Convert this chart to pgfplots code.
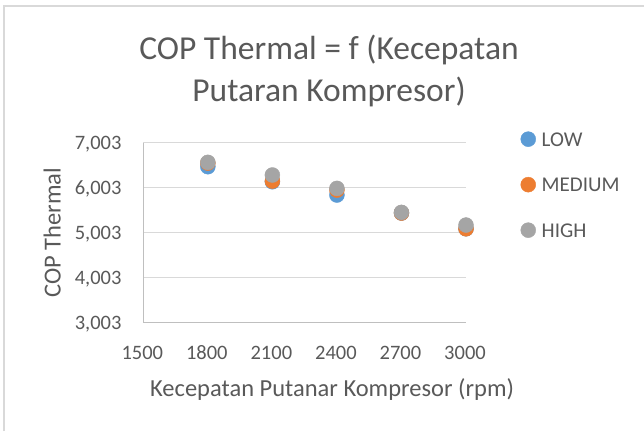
\documentclass[border=0pt]{standalone}
\usepackage{pgfplots}
\pgfplotsset{compat=1.18}
\usepackage{fontspec}
\setmainfont{Carlito}
\definecolor{txt}{HTML}{595959}
\definecolor{gridc}{HTML}{D9D9D9}
\definecolor{axln}{HTML}{BFBFBF}
\definecolor{cLow}{HTML}{5B9BD5}
\definecolor{cMed}{HTML}{ED7D31}
\definecolor{cHigh}{HTML}{A5A5A5}
\begin{document}
\begin{tikzpicture}[x=1pt,y=1pt]
\useasboundingbox (0,0) rectangle (644,431);
\draw[gridc, line width=2pt] (4,0) -- (4,425) -- (644,425);
\begin{axis}[
  at={(143.3pt,108.3pt)}, anchor=south west,
  scale only axis, width=322.7pt, height=180pt,
  xmin=1500, xmax=3000, ymin=3.003, ymax=7.003,
  clip=false,
  xtick={1500,1800,2100,2400,2700,3000},
  ytick={3.003,4.003,5.003,6.003,7.003},
  yticklabels={{3,003},{4,003},{5,003},{6,003},{7,003}},
  /pgf/number format/assume math mode=true,
  /pgf/number format/1000 sep={},
  major tick length=0pt,
  ymajorgrids, grid style={gridc, line width=1.5pt},
  axis lines*=left,
  axis line style={axln, line width=1.5pt, -},
  xticklabel style={font=\fontsize{20.5}{24}\selectfont, text=txt, anchor=base, yshift=-37pt, xshift=-1pt},
  yticklabel style={font=\fontsize{20.5}{24}\selectfont, text=txt, anchor=base east, inner sep=0pt, xshift=-21.6pt, yshift=-6.6pt},
  xlabel={Kecepatan Putanar Kompresor (rpm)},
  xlabel style={font=\fontsize{24.5}{28}\selectfont, text=txt, at={(axis description cs:0.585,-0.411)}, anchor=base},
  ylabel={COP Thermal},
  ylabel style={font=\fontsize{24.5}{28}\selectfont, text=txt, at={(axis description cs:-0.282,0.5)}, anchor=center},
  legend style={draw=none, fill=none, inner sep=0pt, at={(axis description cs:1.169,1.0625)}, anchor=north west,
    font=\fontsize{21}{24}\selectfont, text=txt, row sep=30.5pt,
    nodes={inner sep=0pt, text height=14.5pt, text depth=0.5pt}, column sep=6pt},
  legend cell align=left,
  legend image code/.code={\draw[#1] plot coordinates {(7.5pt,0pt)};},
]
\addplot[only marks, mark=*, mark size=7.5pt, draw=cLow, fill=cLow] coordinates {
  (1800,6.47) (2100,6.135) (2400,5.84) (2700,5.44) (3000,5.09)};
\addlegendentry{LOW}
\addplot[only marks, mark=*, mark size=7.5pt, draw=cMed, fill=cMed] coordinates {
  (1800,6.55) (2100,6.15) (2400,5.95) (2700,5.44) (3000,5.09)};
\addlegendentry{MEDIUM}
\addplot[only marks, mark=*, mark size=7.5pt, draw=cHigh, fill=cHigh] coordinates {
  (1800,6.566) (2100,6.285) (2400,5.988) (2700,5.455) (3000,5.173)};
\addlegendentry{HIGH}
\end{axis}
\node[font=\fontsize{33.5}{36}\selectfont, text=txt, anchor=base] at (329,371) {COP Thermal = f (Kecepatan};
\node[font=\fontsize{33.5}{36}\selectfont, text=txt, anchor=base] at (329,329) {Putaran Kompresor)};
\end{tikzpicture}
\end{document}
